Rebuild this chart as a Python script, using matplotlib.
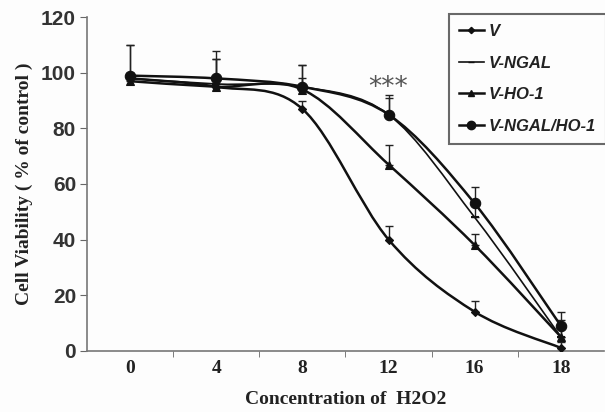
import numpy as np
import matplotlib.pyplot as plt
from matplotlib.path import Path
from matplotlib.patches import PathPatch

# H2O2 concentrations (categories)
conc = ['0', '4', '8', '12', '16', '18']

# cell viability (% of control)
v = [98, 95, 87, 40, 14, 1]
v_ngal = [98, 96, 95, 85, 48, 5]
v_ho1 = [97, 95, 94, 67, 38, 5]
v_ngal_ho1 = [99, 98, 95, 85, 53, 9]

# upper error bars
v_err = [2, 2, 3, 5, 4, 2]
v_ngal_err = [12, 12, 8, 6, 6, 6]
v_ho1_err = [3, 10, 4, 7, 4, 4]
v_ngal_ho1_err = [11, 7, 8, 7, 6, 5]

names = ['V', 'V-NGAL', 'V-HO-1', 'V-NGAL/HO-1']
series = [v, v_ngal, v_ho1, v_ngal_ho1]
errors = [v_err, v_ngal_err, v_ho1_err, v_ngal_ho1_err]
markers = ['D', '_', '^', 'o']
msizes = [4, 6, 6, 7.5]
lwidths = [1.8, 1.2, 1.8, 1.8]


def smooth_path(x, y, t=1 / 6):
    # Excel-like smoothed line: bezier segments through the data points
    x = np.asarray(x, float)
    y = np.asarray(y, float)
    n = len(x)
    verts = [(x[0], y[0])]
    codes = [Path.MOVETO]
    for i in range(n - 1):
        i0 = max(i - 1, 0)
        i3 = min(i + 2, n - 1)
        c1 = (x[i] + (x[i + 1] - x[i0]) * t, y[i] + (y[i + 1] - y[i0]) * t)
        c2 = (x[i + 1] - (x[i3] - x[i]) * t, y[i + 1] - (y[i3] - y[i]) * t)
        verts += [c1, c2, (x[i + 1], y[i + 1])]
        codes += [Path.CURVE4] * 3
    return Path(verts, codes)


fig = plt.figure(figsize=(6.05, 4.12), dpi=100)
fig.patch.set_facecolor('#fdfdfd')
ax = fig.add_axes([0.144, 0.149, 0.854, 0.809])
ax.set_facecolor('#fdfdfd')

xs = np.arange(len(conc))
for name, ys, err, m, ms, lw in zip(names, series, errors, markers, msizes, lwidths):
    ax.add_patch(PathPatch(smooth_path(xs, ys), fill=False, edgecolor='#111111', lw=lw, zorder=3))
    ax.errorbar(xs, ys, yerr=[np.zeros(len(err)), err], fmt='none', ecolor='#222222',
                elinewidth=1.0, capsize=3, capthick=1.0, zorder=2)
    ax.plot(xs, ys, linestyle='none', marker=m, markersize=ms, color='#111111',
            markeredgewidth=1.5 if m == '_' else 0.8, zorder=4)
    # legend proxy
    ax.plot([], [], color='#111111', lw=lw, marker=m, markersize=ms * 0.8, label=name)

ax.text(3, 90, '***', ha='center', va='bottom', fontsize=19, color='#555555',
        family='DejaVu Sans')

ax.set_xlim(-0.5, len(conc) - 0.5)
ax.set_ylim(0, 120)
ax.set_yticks(np.arange(0, 121, 20))
ax.set_xticks(xs)
ax.set_xticklabels(conc, fontsize=14, fontweight='bold', family='Liberation Serif', color='#222222')
ax.set_xticks(xs[:-1] + 0.5, minor=True)
ax.tick_params(axis='x', which='major', length=0, pad=7)
ax.tick_params(axis='x', which='minor', length=4, color='#666666', direction='out')
ax.tick_params(axis='y', length=5, color='#666666', direction='out', pad=3)
for lab in ax.get_yticklabels():
    lab.set_fontsize(15)
    lab.set_fontweight('bold')
    lab.set_family('Liberation Sans')
    lab.set_color('#333333')

for s in ['top', 'right']:
    ax.spines[s].set_visible(False)
for s in ['left', 'bottom']:
    ax.spines[s].set_color('#777777')
    ax.spines[s].set_linewidth(1.2)

ax.set_xlabel('Concentration of  H2O2', fontsize=14, fontweight='bold',
              family='Liberation Serif', color='#222222', labelpad=10)
ax.set_ylabel('Cell Viability ( % of control )', fontsize=14, fontweight='bold',
              family='Liberation Serif', color='#222222', labelpad=6)

leg = ax.legend(loc='upper right', bbox_to_anchor=(1.02, 1.035), frameon=True, fancybox=False,
                prop={'family': 'Liberation Sans', 'weight': 'bold', 'style': 'italic', 'size': 12},
                handlelength=1.5, handletextpad=0.3, labelspacing=1.0, borderpad=0.6)
leg.get_frame().set_edgecolor('#444444')
leg.get_frame().set_linewidth(1.5)
leg.get_frame().set_facecolor('#fdfdfd')
for t in leg.get_texts():
    t.set_color('#222222')

fig.savefig('out.png', dpi=100, facecolor=fig.get_facecolor())
